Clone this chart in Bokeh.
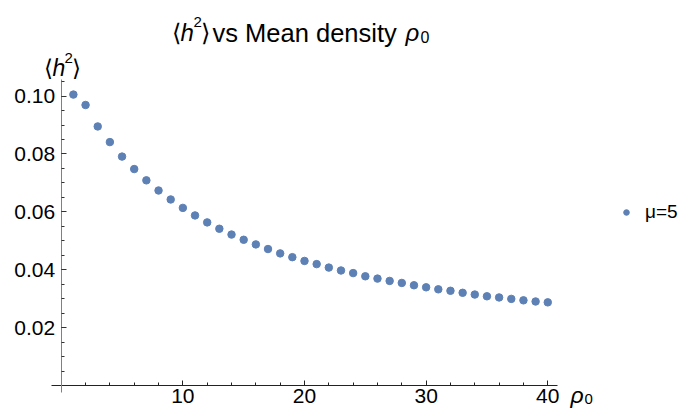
from bokeh.plotting import figure
from bokeh.models import (LinearAxis, FixedTicker, Label, Legend, LegendItem,
                          Range1d, NumeralTickFormatter)
from bokeh.embed import file_html
from bokeh.resources import INLINE

# ---- data ----
rho0 = list(range(1, 41))
h2 = [0.1005, 0.0969, 0.0895, 0.0841, 0.0791, 0.0748, 0.0709, 0.0674, 0.0643, 0.0614,
      0.0588, 0.0564, 0.0542, 0.0522, 0.0504, 0.0488, 0.0472, 0.0457, 0.0444, 0.0431,
      0.0420, 0.0408, 0.0398, 0.0389, 0.0378, 0.0370, 0.0362, 0.0355, 0.0347, 0.0340,
      0.0333, 0.0328, 0.0321, 0.0315, 0.0309, 0.0305, 0.0300, 0.0295, 0.0291, 0.0288]
series_label = "μ=5"
x_major = [10, 20, 30, 40]
x_minor = list(range(2, 41, 2))
y_major = [0.02, 0.04, 0.06, 0.08, 0.10]
y_minor = [round(0.005 * i, 3) for i in range(1, 22)]

X_AXIS_SPAN = (-0.8, 40.8)
Y_AXIS_SPAN = (-0.0023, 0.1057)

FONT = "Liberation Sans"
BLUE = "#5E81B5"
W, H = 684, 418
# page pixels of the axis extents
AX_L, AX_R, AX_T, AX_B = 51, 557, 79, 392
sx = (AX_R - AX_L) / (X_AXIS_SPAN[1] - X_AXIS_SPAN[0])
sy = (AX_B - AX_T) / (Y_AXIS_SPAN[1] - Y_AXIS_SPAN[0])
x0 = X_AXIS_SPAN[0] - AX_L / sx
y0 = Y_AXIS_SPAN[0] - (H - AX_B) / sy

# plot area covers the whole canvas so that nothing is clipped
p = figure(width=W, height=H, output_backend="svg", toolbar_location=None,
           x_range=Range1d(x0, x0 + W / sx), y_range=Range1d(y0, y0 + H / sy),
           x_axis_location=None, y_axis_location=None,
           min_border=0, min_border_left=0, min_border_right=0,
           min_border_top=0, min_border_bottom=0)
p.outline_line_color = None
p.xgrid.visible = False
p.ygrid.visible = False
p.background_fill_color = "white"
p.border_fill_color = "white"


def style_axis(ax, line_color, tick_color, standoff):
    ax.axis_line_color = line_color
    ax.major_tick_line_color = tick_color
    ax.minor_tick_line_color = tick_color
    ax.major_tick_in = 5
    ax.major_tick_out = 0
    ax.minor_tick_in = 3
    ax.minor_tick_out = 0
    ax.major_label_text_font = FONT
    ax.major_label_text_font_size = "21px"
    ax.major_label_text_color = "black"
    ax.major_label_standoff = standoff


xaxis = LinearAxis(fixed_location=0, bounds=X_AXIS_SPAN,
                   ticker=FixedTicker(ticks=x_major, minor_ticks=x_minor))
style_axis(xaxis, "#222222", "#222222", 3)
p.add_layout(xaxis, "below")

yaxis = LinearAxis(fixed_location=0, bounds=Y_AXIS_SPAN,
                   ticker=FixedTicker(ticks=y_major, minor_ticks=y_minor),
                   formatter=NumeralTickFormatter(format="0.00"))
style_axis(yaxis, "#808080", "#333333", 6)
p.add_layout(yaxis, "left")

r = p.scatter(rho0, h2, size=7.5, color=BLUE, line_color=BLUE)

legend = Legend(items=[LegendItem(label=series_label, renderers=[r])],
                location=(619, H - 223), padding=0, spacing=0, margin=0,
                border_line_color=None, background_fill_alpha=0,
                glyph_width=14, glyph_height=20, label_height=20,
                label_standoff=12, label_text_font=FONT,
                label_text_font_size="19px", label_text_color="black")
p.add_layout(legend, "center")


def txt(cx, cy, s, size="23px", style="normal"):
    # cx, cy: page pixels from the top-left corner
    p.add_layout(Label(x=cx, y=H - cy, x_units="screen", y_units="screen",
                       text=s, text_font=FONT, text_font_size=size,
                       text_font_style=style, text_color="black",
                       text_baseline="alphabetic", text_align="left"))


# title  <h^2> vs Mean density rho_0
txt(171, 32, "⟨", size="24px")
txt(180, 32, "h", size="24px", style="italic")
txt(193, 21, "2", size="15px")
txt(200, 32, "⟩", size="24px")
txt(212, 32, "vs Mean density", size="25.5px")
txt(405, 32, "ρ", size="24px", style="italic")
txt(420, 36, "0", size="16px")

# y-axis label
txt(43, 67, "⟨")
txt(52, 67, "h", style="italic")
txt(64, 57, "2", size="15px")
txt(71, 67, "⟩")

# x-axis label
txt(570, 394, "ρ", style="italic")
txt(584, 398, "0", size="15px")

open("out.html", "w").write(file_html(p, INLINE))
